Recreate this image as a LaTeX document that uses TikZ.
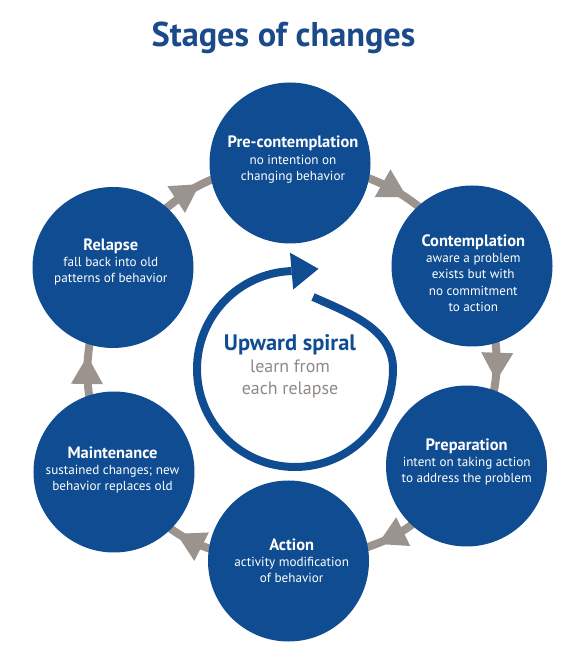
\documentclass[tikz,border=0pt]{standalone}
\usepackage{fontspec}
\setmainfont{PT Sans}
\usetikzlibrary{decorations.markings,backgrounds}
\definecolor{cblue}{HTML}{0F4C92}
\definecolor{tblue}{HTML}{1A4A8A}
\definecolor{cgray}{HTML}{9B938E}
\definecolor{sgray}{HTML}{8E8984}
\newcommand{\hd}[1]{{\fontsize{16.5}{16.3}\selectfont\bfseries #1}}
\begin{document}
\begin{tikzpicture}[x=1bp,y=1bp,
  stage/.style={circle,fill=cblue,minimum size=161bp,inner sep=0pt},
  stagetext/.style={align=center,text=white,font=\fontsize{13.2}{16.3}\selectfont,inner sep=0pt},
  conn/.style={draw=cgray,line width=8bp,shorten <=-3bp,shorten >=-3bp,
    postaction={decorate},
    decoration={markings,mark=at position 0.5 with {\fill[cgray] (14,0) -- (-14,16) -- (-14,-16) -- cycle;}}},
]
\useasboundingbox (0,0) rectangle (580,669);
\node[font=\bfseries\fontsize{34.5}{40}\selectfont,text=tblue,anchor=base,inner sep=0pt] (title) at (283.5,622) {Stages of changes};

\node[stage] (pre) at (290,506) {};
\node[stage] (cont) at (472,403) {};
\node[stage] (prep) at (466.5,203) {};
\node[stage] (act) at (288.5,108) {};
\node[stage] (maint) at (114,197) {};
\node[stage] (rel) at (113,401.5) {};

\begin{scope}[on background layer]
\draw[conn] (pre.-11.5) to[out=-21.5,in=142.5] (cont.132.5);
\draw[conn] (cont.-73.6) to[out=-83.6,in=80.4] (prep.70.4);
\draw[conn] (prep.-133.9) to[out=-143.9,in=20.1] (act.10.1);
\draw[conn] (act.171) to[out=161,in=-35] (maint.-45);
\draw[conn] (maint.108.3) to[out=98.3,in=-97.7] (rel.-107.7);
\draw[conn] (rel.48.6) to[out=38.6,in=202.6] (pre.192.6);
\end{scope}

\node[stagetext] (pre-t) at (293,509.4) {\hd{Pre-contemplation}\\no intention on\\changing behavior};
\node[stagetext] (cont-t) at (473.3,395.8) {\hd{Contemplation}\\aware a problem\\exists but with\\no commitment\\to action};
\node[stagetext] (prep-t) at (466.7,206.8) {\hd{Preparation}\\intent on taking action\\to address the problem};
\node[stagetext] (act-t) at (291.7,108.2) {\hd{Action}\\activity modification\\of behavior};
\node[stagetext] (maint-t) at (112.5,199.2) {\hd{Maintenance}\\sustained changes; new\\behavior replaces old};
\node[stagetext] (rel-t) at (110.8,407.2) {\hd{Relapse}\\fall back into old\\patterns of behavior};

\draw[cblue,line width=8bp] (313,372) .. controls (349.5,355.7) and (393,340) .. (393,300) arc[start angle=0,end angle=-268,radius=98];
\fill[cblue] (318.5,400.2) -- (290.0,416.3) -- (293.2,379.5) -- cycle;

\node[align=center,text=sgray,inner sep=0pt,font=\fontsize{18}{22}\selectfont] (spiral-t) at (290,303) {{\fontsize{22.5}{22}\selectfont\bfseries\color{cblue}Upward spiral}\\learn from\\each relapse};
\end{tikzpicture}
\end{document}
